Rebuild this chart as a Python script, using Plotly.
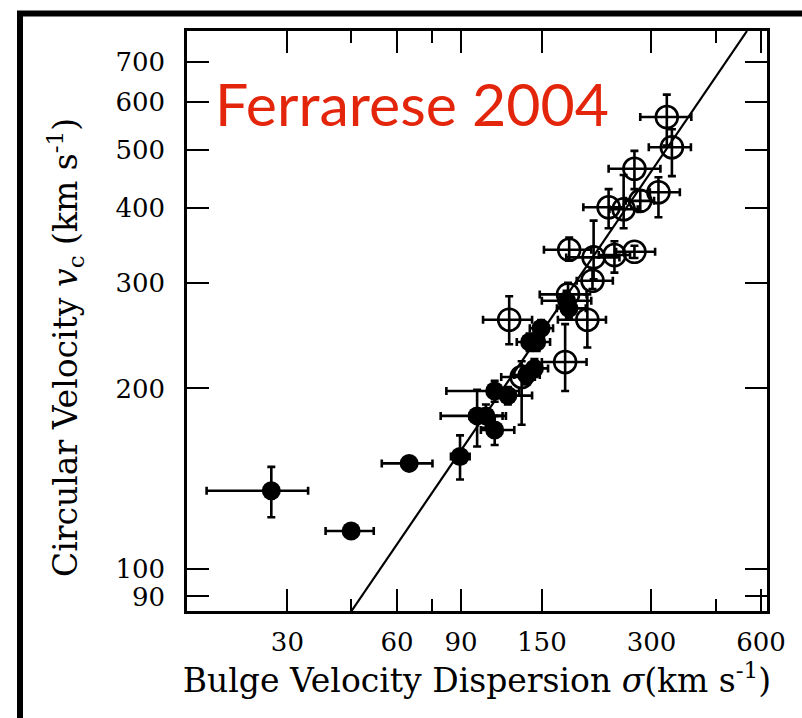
import math
import plotly.graph_objects as go

# ---- data ----
# filled points: bulge dispersion sigma, circular velocity vc, and error bounds
fill_sigma    = [27.1, 44.9, 64.8, 89.4, 99.6, 105.3, 111.3, 111.3, 121.0, 136.3, 143.1, 138.8, 145.2, 149.3, 175.4, 178.0]
fill_vc       = [135, 115.7, 150, 154, 180, 180, 170.5, 198, 194.6, 210.6, 216, 239, 239, 252, 280, 272]
fill_sig_lo   = [18.0, 38.2, 54.5, 84.4, 79.1, 95, 102, 82, 112, 126, 133, 128, 134, 139, 150, 165]
fill_sig_hi   = [34.2, 51.8, 75.1, 95.0, 119.5, 117, 126, 130, 141, 148, 156, 151, 158, 161, 205, 198]
fill_vc_lo    = [122, 115.7, 150, 141, 160, 172, 161, 190, 188, 203, 209, 231, 231, 244, 270, 262]
fill_vc_hi    = [148, 115.7, 150, 167, 199, 188, 180, 206, 201, 218, 224, 247, 247, 260, 291, 283]

# open points
open_sigma    = [122, 173.8, 132, 200, 177, 206.6, 178.3, 208.1, 237.4, 269.4, 228.8, 251.6, 279.5, 313.6, 269.4, 341.4, 330.6]
open_vc       = [260.4, 221.4, 209, 260.4, 287, 302.5, 340.6, 330.8, 333.8, 338, 401, 398, 411, 424.8, 464.8, 505, 567]
open_sig_lo   = [103.4, 150, 116, 166, 148, 187, 152, 175, 215, 240, 195, 230, 255, 297, 228.8, 295, 279.5]
open_sig_hi   = [141, 199, 143.5, 225, 199, 235, 205, 245, 262, 307, 252, 275, 305, 359, 317.5, 385, 386]
open_vc_lo    = [237, 198, 174, 234, 275, 293, 327, 304, 312, 330, 370, 370, 395, 386, 430, 452, 508]
open_vc_hi    = [285, 256, 222, 287, 300, 317, 357, 381, 352, 346, 430, 454, 428, 450, 498, 541, 618]

# fitted relation (end points)
fit_sigma = [45, 549]
fit_vc    = [85.1, 789]

x_major = [30, 60, 90, 150, 300, 600]
x_minor = [45, 75, 450]
y_major = [90, 100, 200, 300, 400, 500, 600, 700]

def plus(v, hi):
    return [h - a for a, h in zip(v, hi)]

def minus(v, lo):
    return [a - l for a, l in zip(v, lo)]

fig = go.Figure()

fig.add_trace(go.Scatter(x=fit_sigma, y=fit_vc, mode="lines",
                         line=dict(color="black", width=2.2), showlegend=False))

eb = dict(type="data", symmetric=False, color="black", thickness=2.6, width=4)

fig.add_trace(go.Scatter(
    x=open_sigma, y=open_vc, mode="markers", showlegend=False,
    marker=dict(symbol="circle-open", size=22, color="black", line=dict(width=2.6, color="black")),
    error_x=dict(array=plus(open_sigma, open_sig_hi), arrayminus=minus(open_sigma, open_sig_lo), **eb),
    error_y=dict(array=plus(open_vc, open_vc_hi), arrayminus=minus(open_vc, open_vc_lo), **eb),
))

fig.add_trace(go.Scatter(
    x=fill_sigma, y=fill_vc, mode="markers", showlegend=False,
    marker=dict(symbol="circle", size=19, color="black", line=dict(width=0)),
    error_x=dict(array=plus(fill_sigma, fill_sig_hi), arrayminus=minus(fill_sigma, fill_sig_lo), **eb),
    error_y=dict(array=plus(fill_vc, fill_vc_hi), arrayminus=minus(fill_vc, fill_vc_lo), **eb),
))

tickfont = dict(family="DejaVu Serif", size=26, color="black")
titlefont = dict(family="DejaVu Serif", size=33, color="black")

fig.update_xaxes(
    type="log", range=[math.log10(15.9), math.log10(623)],
    tickvals=x_major, ticktext=[str(v) for v in x_major],
    ticks="inside", ticklen=22, tickwidth=2, tickcolor="black",
    minor=dict(tickvals=x_minor, ticks="inside", ticklen=12, tickwidth=2, tickcolor="black", showgrid=False),
    showline=True, linecolor="black", linewidth=2.5, mirror="ticks",
    showgrid=False, zeroline=False, tickfont=tickfont, ticklabelstandoff=6,
    title=dict(text="Bulge Velocity Dispersion <i>σ</i>(km s<sup>-1</sup>)", font=titlefont, standoff=8),
)
fig.update_yaxes(
    type="log", range=[math.log10(85.1), math.log10(789)],
    tickvals=y_major, ticktext=[str(v) for v in y_major],
    ticks="inside", ticklen=22, tickwidth=2, tickcolor="black",
    showline=True, linecolor="black", linewidth=2.5, mirror="ticks",
    showgrid=False, zeroline=False, tickfont=tickfont, ticklabelstandoff=14,
)

# y-axis title placed as a rotated annotation
fig.add_annotation(text="Circular Velocity <i>v</i><sub>c</sub> (km s<sup>-1</sup>)",
                   xref="paper", yref="paper", x=(66 - 187) / 580, y=(611 - 348) / 580,
                   xanchor="center", yanchor="middle", textangle=-90, showarrow=False,
                   font=titlefont)

fig.add_annotation(text="Ferrarese 2004", xref="paper", yref="paper",
                   x=(213 - 187) / 580, y=(611 - 104) / 580, xanchor="left", yanchor="middle",
                   showarrow=False, font=dict(family="Lato", size=59, color="#e3260b"))

# outer frame around the figure
fig.add_shape(type="rect", xref="paper", yref="paper",
              x0=(20 - 187) / 580, x1=1.4, y0=-0.4, y1=(611 - 13.5) / 580,
              line=dict(color="black", width=6), fillcolor="rgba(0,0,0,0)", layer="above")

fig.update_layout(
    width=802, height=718,
    margin=dict(l=187, r=35, t=31, b=107, autoexpand=False),
    paper_bgcolor="white", plot_bgcolor="white",
)

fig.write_html("out.html", config={"displayModeBar": False},
               post_script="document.body.style.margin='0';")
